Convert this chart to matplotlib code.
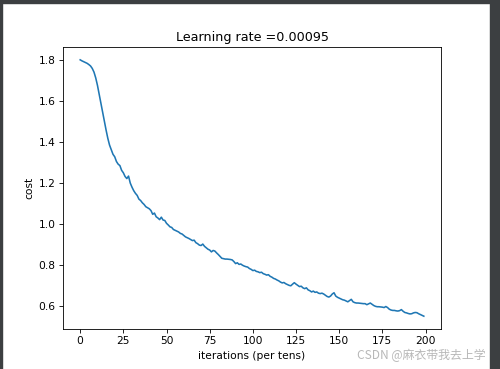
import matplotlib
matplotlib.use("Agg")
import matplotlib.pyplot as plt
from matplotlib.patches import Rectangle

title = "Learning rate =0.00095"
xlabel = "iterations (per tens)"
ylabel = "cost"
watermark = "CSDN @麻衣带我去上学"

costs = [
    1.800, 1.795, 1.791, 1.787, 1.783, 1.777, 1.770, 1.758, 1.740, 1.712,
    1.676, 1.632, 1.588, 1.545, 1.500, 1.458, 1.418, 1.385, 1.362, 1.340,
    1.328, 1.305, 1.292, 1.285, 1.262, 1.250, 1.232, 1.222, 1.234, 1.200,
    1.180, 1.163, 1.150, 1.140, 1.122, 1.115, 1.104, 1.096, 1.085, 1.080,
    1.075, 1.066, 1.048, 1.054, 1.036, 1.030, 1.022, 1.034, 1.020, 1.018,
    1.004, 0.996, 0.987, 0.984, 0.974, 0.970, 0.966, 0.962, 0.955, 0.952,
    0.945, 0.938, 0.934, 0.930, 0.925, 0.920, 0.922, 0.910, 0.905, 0.898,
    0.896, 0.903, 0.892, 0.885, 0.878, 0.874, 0.865, 0.872, 0.869, 0.860,
    0.852, 0.843, 0.834, 0.832, 0.830, 0.830, 0.829, 0.828, 0.826, 0.818,
    0.808, 0.812, 0.804, 0.806, 0.800, 0.796, 0.793, 0.791, 0.784, 0.780,
    0.774, 0.776, 0.770, 0.768, 0.764, 0.766, 0.759, 0.756, 0.752, 0.754,
    0.746, 0.742, 0.736, 0.733, 0.728, 0.724, 0.718, 0.714, 0.716, 0.710,
    0.706, 0.702, 0.700, 0.708, 0.715, 0.708, 0.702, 0.696, 0.698, 0.690,
    0.686, 0.690, 0.680, 0.676, 0.670, 0.674, 0.668, 0.670, 0.664, 0.662,
    0.664, 0.660, 0.654, 0.648, 0.645, 0.650, 0.660, 0.666, 0.650, 0.644,
    0.640, 0.636, 0.632, 0.630, 0.626, 0.622, 0.628, 0.634, 0.622, 0.618,
    0.616, 0.616, 0.615, 0.614, 0.613, 0.613, 0.608, 0.612, 0.616, 0.610,
    0.604, 0.600, 0.598, 0.598, 0.597, 0.596, 0.594, 0.599, 0.594, 0.586,
    0.582, 0.580, 0.580, 0.578, 0.577, 0.579, 0.584, 0.576, 0.570, 0.568,
    0.565, 0.563, 0.564, 0.568, 0.570, 0.569, 0.564, 0.560, 0.556, 0.552,
]

W, H = 500, 369
fig = plt.figure(figsize=(W / 100, H / 100), dpi=100)
fig.patch.set_facecolor("white")

dark = "#3c3f41"
# screenshot frame
fig.patches.append(Rectangle((0, 0), 2 / W, 1, transform=fig.transFigure, color=dark, zorder=-1))
fig.patches.append(Rectangle((0, 1 - 3 / H), 1, 3 / H, transform=fig.transFigure, color=dark, zorder=-1))
fig.patches.append(Rectangle((490 / W, 0), 10 / W, 1, transform=fig.transFigure, color=dark, zorder=-1))

s = 0.7625
ax = fig.add_axes([63 / W, 1 - 329 / H, (441 - 63) / W, (329 - 47) / H])
ax.plot(range(len(costs)), costs, color="#1f77b4", lw=1.5 * s)
ax.set_title(title, fontsize=12 * s, pad=6 * s)
ax.set_xlabel(xlabel, fontsize=10 * s, labelpad=4 * s)
ax.set_ylabel(ylabel, fontsize=10 * s, labelpad=4 * s)
ax.tick_params(labelsize=10 * s, length=3.5 * s, width=0.8 * s, pad=3.5 * s)
for sp in ax.spines.values():
    sp.set_linewidth(0.8 * s)
ax.set_yticks([0.6, 0.8, 1.0, 1.2, 1.4, 1.6, 1.8])
ax.set_xticks([0, 25, 50, 75, 100, 125, 150, 175, 200])

fig.text(486 / W, 1 - 359 / H, watermark, ha="right", va="baseline",
         fontsize=8.6, color="#b8b8b8",
         family=["Noto Sans CJK SC", "DejaVu Sans"])

fig.savefig("out.png", dpi=100)
